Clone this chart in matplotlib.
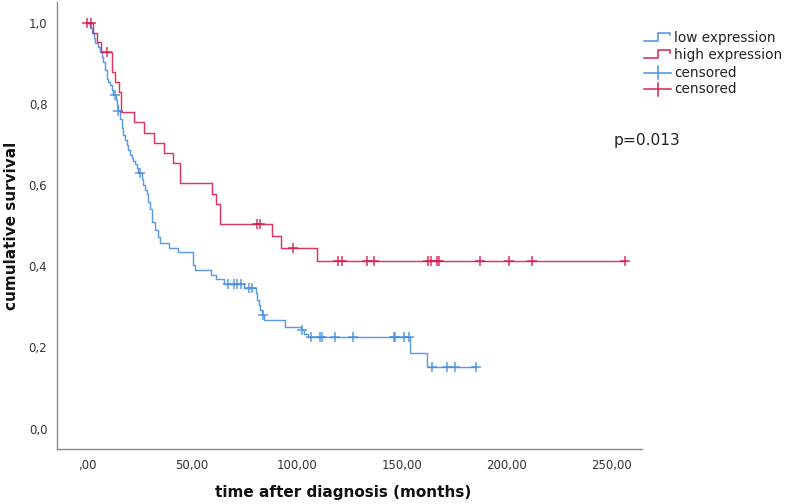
import numpy as np
import matplotlib
matplotlib.use("Agg")
import matplotlib.pyplot as plt
from matplotlib.lines import Line2D

# ---------------- data ----------------
groups = ["low expression", "high expression"]

low_event_times = [1.5, 2.5, 3.2, 4.0, 5.0, 6.0, 7.0, 7.8, 8.5, 9.4, 10.2, 11.0, 11.8, 12.5,
                   13.6, 14.1, 14.6, 15.7, 16.5, 17.3, 18.1, 18.9, 19.7, 20.5, 21.3, 22.0,
                   23.0, 23.7, 24.5, 26.0, 26.8, 27.6, 28.4, 29.2, 30.0, 30.8, 32.4, 33.6,
                   34.8, 39.2, 43.3, 50.3, 51.3, 58.9, 61.3, 65.4, 74.9, 80.5, 81.0, 82.0,
                   82.6, 83.5, 84.4, 94.2, 101.9, 103.5, 105.2, 153.8, 161.8]
low_surv = [0.988, 0.976, 0.964, 0.953, 0.941, 0.930, 0.918, 0.905, 0.884, 0.864, 0.856, 0.848,
            0.835, 0.823, 0.810, 0.798, 0.783, 0.765, 0.741, 0.725, 0.713, 0.700, 0.688, 0.676,
            0.668, 0.660, 0.652, 0.643, 0.631, 0.617, 0.602, 0.590, 0.578, 0.559, 0.541, 0.510,
            0.489, 0.473, 0.457, 0.445, 0.435, 0.404, 0.392, 0.379, 0.368, 0.358, 0.346, 0.334,
            0.317, 0.305, 0.293, 0.280, 0.268, 0.251, 0.243, 0.234, 0.225, 0.187, 0.153]
low_censored = [13.3, 14.9, 25.2, 67.0, 70.1, 71.3, 73.3, 77.3, 78.4, 84.0, 102.5, 106.7,
                111.0, 112.0, 118.1, 126.8, 146.2, 146.7, 151.0, 153.5, 164.1, 171.3, 175.2, 185.2]

high_event_times = [2.7, 4.6, 6.5, 11.8, 13.3, 15.4, 16.0, 22.5, 27.1, 32.0, 36.7, 40.8, 44.3,
                    59.7, 61.3, 63.3, 88.2, 92.4, 109.7]
high_surv = [0.977, 0.954, 0.930, 0.881, 0.856, 0.832, 0.782, 0.756, 0.729, 0.704, 0.680,
             0.656, 0.605, 0.578, 0.554, 0.505, 0.475, 0.446, 0.414]
high_censored = [0.0, 2.0, 9.4, 81.0, 82.3, 98.2, 119.7, 121.3, 133.2, 136.7, 162.2, 163.8,
                 166.5, 167.6, 187.1, 201.0, 212.0, 256.0]

x_ticks = [0, 50, 100, 150, 200, 250]
x_tick_labels = [",00", "50,00", "100,00", "150,00", "200,00", "250,00"]
y_ticks = [0.0, 0.2, 0.4, 0.6, 0.8, 1.0]
y_tick_labels = ["0,0", "0,2", "0,4", "0,6", "0,8", "1,0"]
p_text = "p=0.013"

# ---------------- style ----------------
W, H = 785, 504
DPI = 100
blue = "#4a90e2"
red = "#d91f4e"
colors = [blue, red]
font = "DejaVu Sans"

fig = plt.figure(figsize=(W / DPI, H / DPI), dpi=DPI)
ax = fig.add_axes([57 / W, 1 - 449 / H, (642 - 57) / W, (449 - 2) / H])


def km_curve(times, surv, cens):
    end = max(max(times), max(cens))
    xs = np.concatenate([[0.0], times, [end]])
    ys = np.concatenate([[1.0], surv, [surv[-1]]])
    return xs, ys


def surv_at(times, surv, t):
    idx = np.searchsorted(np.asarray(times), t, side="right") - 1
    return 1.0 if idx < 0 else surv[idx]


series = [(low_event_times, low_surv, low_censored),
          (high_event_times, high_surv, high_censored)]
for (t, s, c), col in zip(series, colors):
    xs, ys = km_curve(t, s, c)
    ax.plot(xs, ys, drawstyle="steps-post", color=col, lw=1.05, alpha=0.9)
    cy = [surv_at(t, s, ci) for ci in c]
    ax.plot(c, cy, ls="none", marker="+", ms=7, mew=1.1, color=col, alpha=0.9)

ax.set_xlim(-14.3, 264.3)
ax.set_ylim(-0.0506, 1.053)
ax.set_xticks(x_ticks)
ax.set_xticklabels(x_tick_labels)
ax.set_yticks(y_ticks)
ax.set_yticklabels(y_tick_labels)
ax.tick_params(length=0, labelsize=8.5, colors="#333333", pad=7)
for lab in ax.get_xticklabels() + ax.get_yticklabels():
    lab.set_family(font)
for sp in ["top", "right"]:
    ax.spines[sp].set_visible(False)
for sp in ["left", "bottom"]:
    ax.spines[sp].set_color("#8a8a8a")
    ax.spines[sp].set_linewidth(1.0)


def P(x, y):
    return (x / W, 1 - y / H)


fig.text(*P(343, 492), "time after diagnosis (months)", ha="center", va="center",
         fontsize=11, fontweight="bold", family=font, color="#111111")
fig.text(*P(12, 226), "cumulative survival", ha="center", va="center", rotation=90,
         fontsize=11, fontweight="bold", family=font, color="#111111")
fig.text(*P(614, 141), p_text, ha="left", va="center", fontsize=11.2, family=font,
         color="#222222")

# legend (drawn by hand in figure pixels)
legend_labels = groups + ["censored", "censored"]
rows_y = [37.7, 55.0, 72.7, 89.3]
for i, (lab, yy) in enumerate(zip(legend_labels, rows_y)):
    col = colors[i % 2]
    if i < 2:
        pts = [(644, yy + 3), (658, yy + 3), (658, yy - 5), (670, yy - 5), (670, yy - 2.5)]
        xs = [P(*p)[0] for p in pts]
        ys = [P(*p)[1] for p in pts]
        fig.add_artist(Line2D(xs, ys, transform=fig.transFigure, color=col, lw=1.1))
    else:
        a, b = P(644, yy), P(671, yy)
        fig.add_artist(Line2D([a[0], b[0]], [a[1], b[1]], transform=fig.transFigure,
                              color=col, lw=1.1))
        a, b = P(658, yy - 6.5), P(658, yy + 6.5)
        fig.add_artist(Line2D([a[0], b[0]], [a[1], b[1]], transform=fig.transFigure,
                              color=col, lw=1.1))
    fig.text(*P(674, yy), lab, ha="left", va="center", fontsize=9.8, family=font,
             color="#222222")

fig.savefig("out.png", dpi=DPI)
